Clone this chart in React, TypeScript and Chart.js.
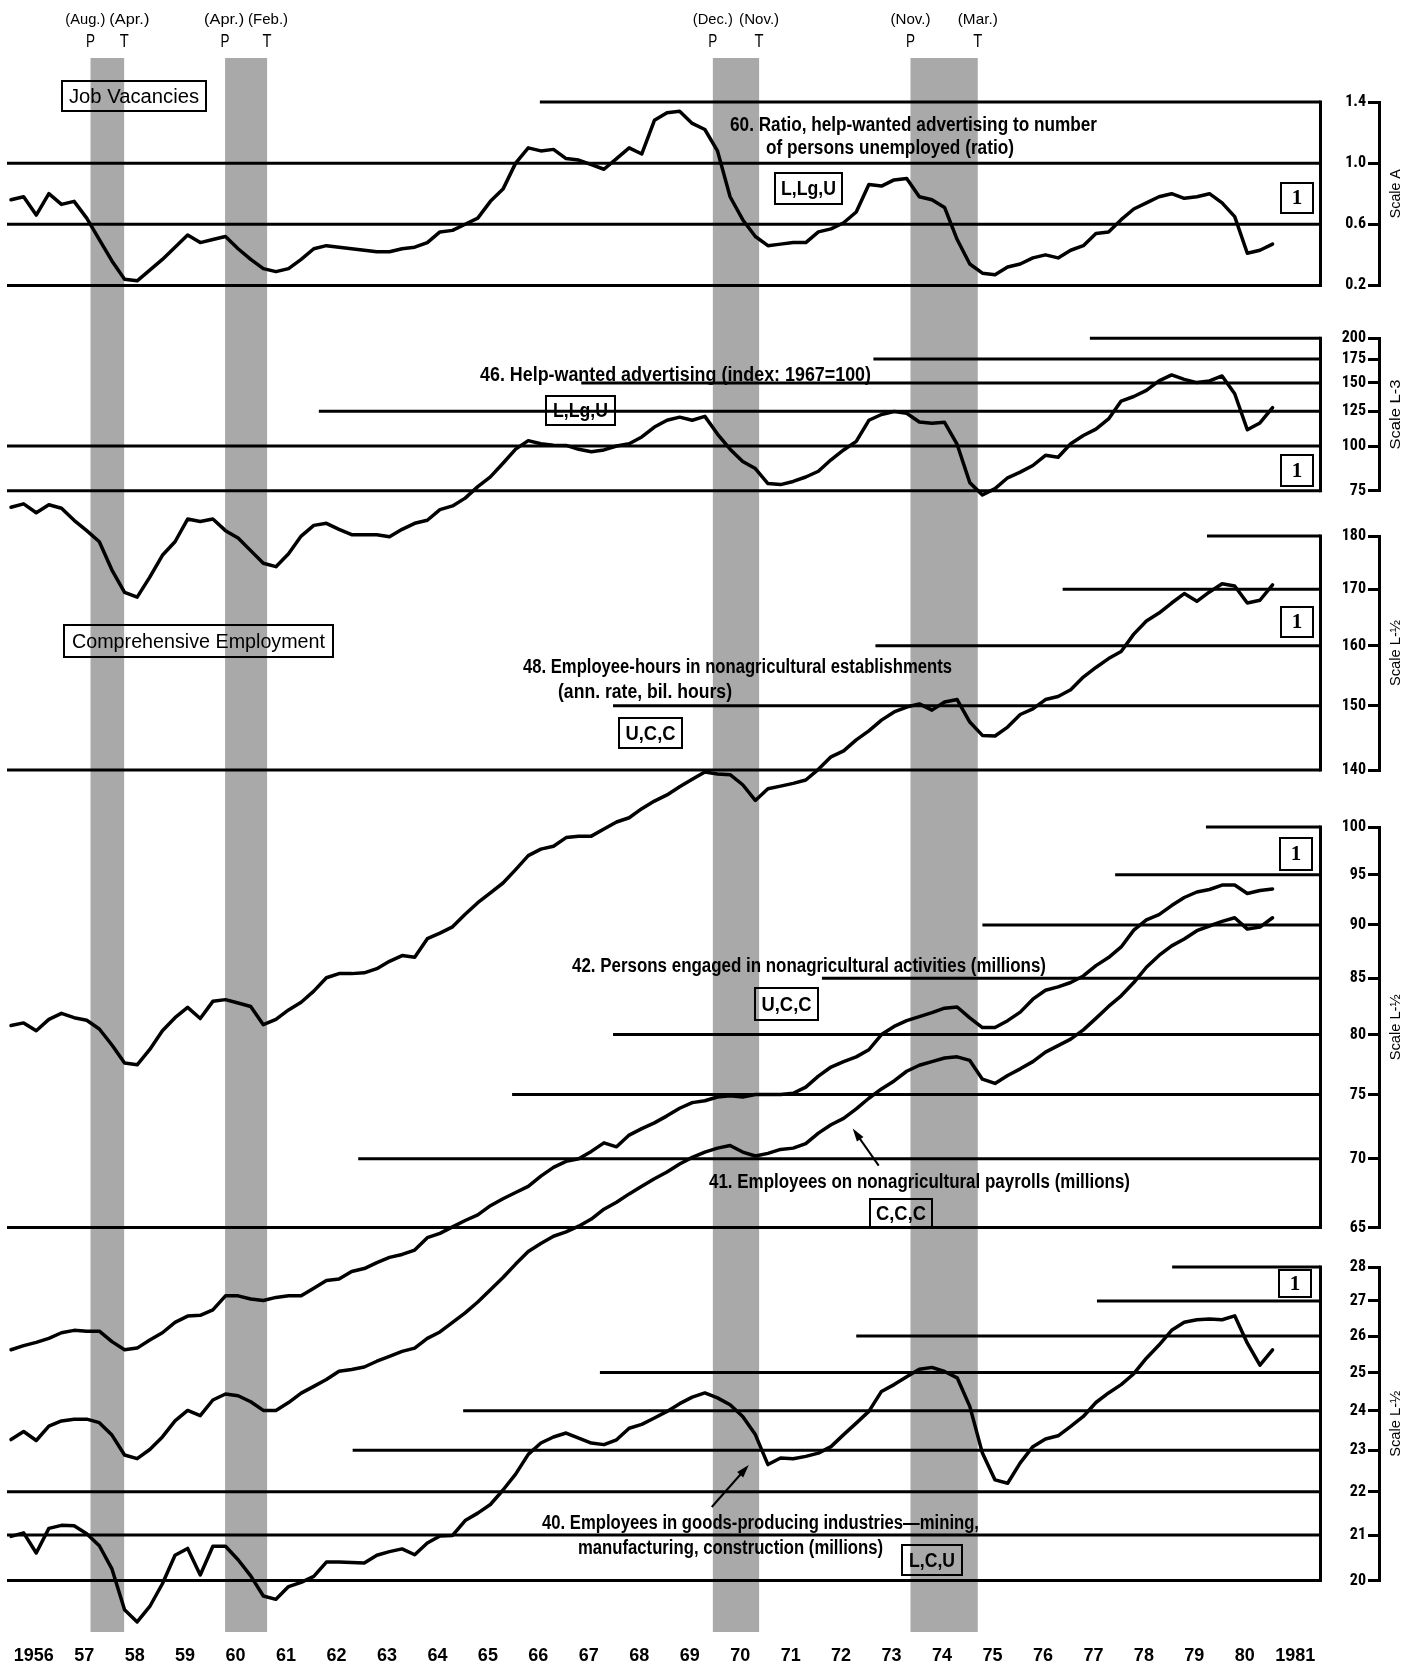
import React, { useEffect, useRef } from 'react';
import { Chart, registerables } from 'chart.js';

Chart.register(...registerables);

const WIDTH = 1415;
const HEIGHT = 1667;

// ---------- time axis ----------
const X_MIN = 1955.9703;
const X_MAX = 1983.1594;
const X_END = 1982; // right edge of the panels
const START = 1956.05; // first quarterly observation
const STEP = 0.25;

const YEAR_TICKS = [1956.5, 1957.5, 1958.5, 1959.5, 1960.5, 1961.5, 1962.5, 1963.5, 1964.5, 1965.5, 1966.5, 1967.5, 1968.5,
  1969.5, 1970.5, 1971.5, 1972.5, 1973.5, 1974.5, 1975.5, 1976.5, 1977.5, 1978.5, 1979.5, 1980.5, 1981.5];
const YEAR_LABELS = ['1956', '57', '58', '59', '60', '61', '62', '63', '64', '65', '66', '67', '68', '69', '70', '71', '72',
  '73', '74', '75', '76', '77', '78', '79', '80', '1981'];

// ---------- business cycle turning points ----------
const PEAKS = [1957.625, 1960.292, 1969.958, 1973.875];
const TROUGHS = [1958.292, 1961.125, 1970.875, 1975.208];
const PEAK_MONTHS = ['(Aug.)', '(Apr.)', '(Dec.)', '(Nov.)'];
const TROUGH_MONTHS = ['(Apr.)', '(Feb.)', '(Nov.)', '(Mar.)'];

// ---------- series (quarterly readings, 1956 Q1 ... 1981 Q1) ----------
const RATIO_60 = [
  0.76, 0.78, 0.66, 0.80, 0.73, 0.75, 0.64, 0.50, 0.36, 0.24,
  0.23, 0.30, 0.37, 0.45, 0.53, 0.48, 0.50, 0.52, 0.44, 0.37,
  0.31, 0.29, 0.31, 0.37, 0.44, 0.46, 0.45, 0.44, 0.43, 0.42,
  0.42, 0.44, 0.45, 0.48, 0.55, 0.56, 0.60, 0.64, 0.75, 0.83,
  1.00, 1.10, 1.08, 1.09, 1.03, 1.02, 0.99, 0.96, 1.03, 1.10,
  1.06, 1.28, 1.33, 1.34, 1.26, 1.22, 1.08, 0.78, 0.63, 0.52,
  0.46, 0.47, 0.48, 0.48, 0.55, 0.57, 0.61, 0.68, 0.86, 0.85,
  0.89, 0.90, 0.78, 0.76, 0.71, 0.50, 0.34, 0.28, 0.27, 0.32,
  0.34, 0.38, 0.40, 0.38, 0.43, 0.46, 0.54, 0.55, 0.63, 0.70,
  0.74, 0.78, 0.80, 0.77, 0.78, 0.80, 0.74, 0.65, 0.41, 0.43,
  0.47,
];
const HELP_WANTED_46 = [
  67.4, 68.9, 65.1, 68.5, 67, 62, 58, 54, 45, 39,
  37.8, 43, 49.5, 54, 62.5, 61.5, 62.5, 58, 55.3, 51,
  47, 46, 50, 56, 60, 60.8, 58.5, 56.5, 56.5, 56.5,
  55.8, 58.5, 60.8, 62, 66.4, 68, 71.5, 77, 82, 89.5,
  98, 103.5, 101.5, 100.5, 100.4, 97.9, 96.4, 97.5, 100, 101.5,
  106, 113, 118, 120.4, 118, 121, 108, 98, 90.5, 86.5,
  78.5, 78, 79.6, 81.9, 85, 91.5, 97.5, 103, 118, 122.5,
  124.8, 123.5, 116.7, 115.8, 116.5, 101, 79, 73, 76, 81.5,
  84.5, 88.2, 94.2, 93, 101.5, 107, 111.5, 119, 133.5, 137.5,
  143, 152, 158, 153.5, 150.4, 152, 157, 140, 111, 116,
  128,
];
const EMP_HOURS_48 = [
  106.4, 106.7, 105.8, 107.1, 107.8, 107.3, 107.0, 106.0, 104.2, 102.2,
  102.0, 103.7, 105.8, 107.3, 108.5, 107.2, 109.2, 109.4, 109.0, 108.6,
  106.5, 107.1, 108.2, 109.1, 110.4, 112.0, 112.5, 112.5, 112.6, 113.1,
  114.0, 114.7, 114.5, 116.8, 117.5, 118.3, 119.9, 121.4, 122.7, 124.0,
  125.8, 127.7, 128.6, 129.0, 130.2, 130.4, 130.4, 131.4, 132.4, 133.0,
  134.3, 135.4, 136.3, 137.5, 138.6, 139.7, 139.4, 139.3, 137.8, 135.5,
  137.2, 137.6, 138.0, 138.5, 140.1, 142.0, 142.9, 144.6, 146.0, 147.7,
  149.0, 149.8, 150.3, 149.3, 150.6, 151.0, 147.4, 145.3, 145.2, 146.6,
  148.6, 149.5, 151.0, 151.5, 152.6, 154.7, 156.3, 157.8, 159.0, 162.0,
  164.3, 165.7, 167.5, 169.2, 167.8, 169.5, 171.0, 170.6, 167.5, 168.0,
  170.8,
];
const PERSONS_42 = [
  57.0, 57.25, 57.45, 57.7, 58.05, 58.2, 58.15, 58.15, 57.5, 57.0,
  57.1, 57.6, 58.05, 58.7, 59.1, 59.15, 59.5, 60.4, 60.4, 60.2,
  60.1, 60.3, 60.4, 60.4, 60.9, 61.4, 61.5, 62.0, 62.2, 62.6,
  62.95, 63.15, 63.45, 64.3, 64.6, 65.05, 65.5, 65.9, 66.55, 67.05,
  67.5, 67.95, 68.7, 69.35, 69.8, 70.0, 70.55, 71.2, 70.9, 71.8,
  72.3, 72.75, 73.3, 73.9, 74.35, 74.5, 74.8, 74.9, 74.8, 75.0,
  75.0, 75.0, 75.1, 75.6, 76.5, 77.25, 77.7, 78.1, 78.7, 80.0,
  80.7, 81.2, 81.55, 81.9, 82.3, 82.4, 81.45, 80.6, 80.6, 81.2,
  81.95, 83.1, 83.9, 84.2, 84.6, 85.2, 86.15, 86.9, 87.9, 89.5,
  90.5, 91.0, 91.9, 92.7, 93.25, 93.5, 93.95, 93.95, 93.1, 93.4,
  93.55,
];
const PAYROLLS_41 = [
  51.75, 52.2, 51.7, 52.5, 52.8, 52.9, 52.9, 52.7, 52.0, 50.9,
  50.7, 51.2, 51.9, 52.8, 53.4, 53.1, 54.0, 54.35, 54.25, 53.9,
  53.4, 53.4, 53.85, 54.4, 54.8, 55.2, 55.7, 55.8, 55.95, 56.3,
  56.6, 56.9, 57.1, 57.7, 58.1, 58.7, 59.3, 60.0, 60.8, 61.6,
  62.5, 63.35, 63.9, 64.4, 64.7, 65.1, 65.6, 66.3, 66.8, 67.4,
  67.95, 68.5, 69.0, 69.6, 70.1, 70.5, 70.8, 71.0, 70.5, 70.2,
  70.4, 70.7, 70.8, 71.15, 71.95, 72.6, 73.1, 73.85, 74.7, 75.45,
  76.1, 76.9, 77.4, 77.7, 78.0, 78.1, 77.8, 76.25, 75.9, 76.55,
  77.1, 77.7, 78.5, 79.05, 79.6, 80.4, 81.4, 82.45, 83.4, 84.6,
  86.0, 87.1, 88.0, 88.65, 89.45, 89.9, 90.35, 90.7, 89.6, 89.8,
  90.7,
];
const GOODS_40 = [
  20.97, 21.05, 20.6, 21.15, 21.22, 21.21, 21.03, 20.76, 20.25, 19.38,
  19.13, 19.45, 19.93, 20.55, 20.7, 20.12, 20.75, 20.75, 20.45, 20.1,
  19.67, 19.6, 19.87, 19.96, 20.09, 20.4, 20.4, 20.39, 20.38, 20.55,
  20.63, 20.69, 20.56, 20.82, 20.98, 20.99, 21.33, 21.5, 21.7, 22.04,
  22.42, 22.9, 23.18, 23.33, 23.43, 23.3, 23.18, 23.14, 23.26, 23.55,
  23.65, 23.81, 23.98, 24.18, 24.35, 24.46, 24.33, 24.15, 23.85, 23.39,
  22.65, 22.81, 22.79, 22.85, 22.93, 23.09, 23.39, 23.68, 23.98, 24.5,
  24.68, 24.89, 25.09, 25.14, 25.03, 24.86, 24.11, 22.93, 22.28, 22.2,
  22.69, 23.09, 23.28, 23.36, 23.6, 23.85, 24.21, 24.46, 24.68, 24.97,
  25.39, 25.75, 26.16, 26.39, 26.46, 26.48, 26.46, 26.57, 25.8, 25.2,
  25.62,
];

// ---------- scale ticks ----------
const A_TICKS = [0.2, 0.6, 1.0, 1.4];
const L3_TICKS = [75, 100, 125, 150, 175, 200];
const L48_TICKS = [140, 150, 160, 170, 180];
const L42_TICKS = [65, 70, 75, 80, 85, 90, 95, 100];
const L40_TICKS = [20, 21, 22, 23, 24, 25, 26, 27, 28];

// ---------- ruled lines (level, first year of the rule) ----------
const A_GRID = [1.4, 1.0, 0.6, 0.2];
const A_GRID_FROM = [1966.53, X_MIN, X_MIN, X_MIN];
const L3_GRID = [200, 175, 150, 125, 100, 75];
const L3_GRID_FROM = [1977.43, 1973.14, 1967.35, 1962.15, X_MIN, X_MIN];
const L48_GRID = [180, 170, 160, 150, 140];
const L48_GRID_FROM = [1979.75, 1976.89, 1973.18, 1967.98, X_MIN];
const L42_GRID = [100, 95, 90, 85, 80, 75, 70, 65];
const L42_GRID_FROM = [1979.73, 1977.93, 1975.3, 1972.12, 1967.98, 1965.98, 1962.93, X_MIN];
const L40_GRID = [28, 27, 26, 25, 24, 23, 22, 21, 20];
const L40_GRID_FROM = [1979.06, 1977.57, 1972.8, 1967.72, 1965.01, 1962.82, X_MIN, X_MIN, X_MIN];

// ---------- styling ----------
const SANS = '"Liberation Sans Narrow", "Liberation Sans", Arial, sans-serif';
const PLAIN = '"Liberation Sans", Arial, sans-serif';
const NARROW = '"Liberation Sans Narrow", "Roboto Condensed", "DejaVu Sans Condensed", "Liberation Sans", sans-serif';
const SERIF = '"Liberation Serif", "DejaVu Serif", serif';
const SHADE = '#a9a9a9';
const INK = '#000000';

const TITLES = [
  { text: '60. Ratio, help-wanted advertising to number', x: 730, y: 125, w: 367 },
  { text: 'of persons unemployed (ratio)', x: 766, y: 148, w: 248 },
  { text: '46. Help-wanted advertising (index: 1967=100)', x: 480, y: 375, w: 391 },
  { text: '48. Employee-hours in nonagricultural establishments', x: 523, y: 667, w: 429 },
  { text: '(ann. rate, bil. hours)', x: 558, y: 692, w: 174 },
  { text: '42. Persons engaged in nonagricultural activities (millions)', x: 572, y: 966, w: 474 },
  { text: '41. Employees on nonagricultural payrolls (millions)', x: 709, y: 1182, w: 421 },
  { text: '40. Employees in goods-producing industries\u2014mining,', x: 542, y: 1523, w: 437 },
  { text: 'manufacturing, construction (millions)', x: 578, y: 1548, w: 305 },
];

const BOXES = [
  { text: 'Job Vacancies', r: [62, 81, 206, 111], w: 130, size: 20, weight: 'normal', family: SANS },
  { text: 'L,Lg,U', r: [775, 173, 842, 204], w: 55, size: 20, weight: 'bold', family: SANS },
  { text: '1', r: [1281, 183, 1313, 213], w: 0, size: 21, weight: 'bold', family: SERIF },
  { text: 'L,Lg,U', r: [546, 396, 615, 425], w: 55, size: 20, weight: 'bold', family: SANS },
  { text: '1', r: [1281, 455, 1313, 486], w: 0, size: 21, weight: 'bold', family: SERIF },
  { text: 'Comprehensive Employment', r: [64, 625, 333, 657], w: 253, size: 21, weight: 'normal', family: SANS },
  { text: '1', r: [1281, 607, 1313, 637], w: 0, size: 21, weight: 'bold', family: SERIF },
  { text: 'U,C,C', r: [619, 718, 682, 748], w: 50, size: 20, weight: 'bold', family: SANS },
  { text: '1', r: [1280, 838, 1312, 870], w: 0, size: 21, weight: 'bold', family: SERIF },
  { text: 'U,C,C', r: [755, 988, 818, 1020], w: 50, size: 20, weight: 'bold', family: SANS },
  { text: 'C,C,C', r: [870, 1199, 932, 1227], w: 50, size: 20, weight: 'bold', family: SANS },
  { text: '1', r: [1279, 1270, 1311, 1297], w: 0, size: 21, weight: 'bold', family: SERIF },
  { text: 'L,C,U', r: [902, 1545, 962, 1575], w: 46, size: 20, weight: 'bold', family: SANS },
];

const SCALE_TITLES = [
  { id: 'yA', text: 'Scale A', w: 49 },
  { id: 'yL3', text: 'Scale L-3', w: 70 },
  { id: 'yL48', text: 'Scale L-\u00BD', w: 66 },
  { id: 'yL42', text: 'Scale L-\u00BD', w: 66 },
  { id: 'yL40', text: 'Scale L-\u00BD', w: 66 },
];

// arrows: tip placed on a scale value, tail offset in pixels
const ARROWS = [
  { axis: 'yL42', t: 1972.73, v: 72.3, dx: 26, dy: 37 },
  { axis: 'yL40', t: 1970.67, v: 22.64, dx: -37, dy: 42 },
];

function fitText(ctx: any, text: string, x: number, y: number, width: number, size: number,
  weight: string, align: string, family: string = SANS) {
  ctx.save();
  ctx.font = `${weight} ${size}px ${family}`;
  const w0 = ctx.measureText(text).width || 1;
  const sx = width > 0 ? width / w0 : 1;
  ctx.translate(x, y);
  ctx.scale(sx, 1);
  ctx.textAlign = align;
  ctx.textBaseline = 'middle';
  ctx.fillStyle = INK;
  ctx.fillText(text, 0, 0);
  ctx.restore();
}

const decorPlugin = {
  id: 'bcdDecor',
  beforeDraw(chart: any) {
    const { ctx, chartArea, scales } = chart;
    const xs = scales.x;
    ctx.save();
    ctx.fillStyle = '#ffffff';
    ctx.fillRect(0, 0, chart.width, chart.height);
    ctx.fillStyle = SHADE;
    PEAKS.forEach((p, i) => {
      const x1 = xs.getPixelForValue(p);
      const x2 = xs.getPixelForValue(TROUGHS[i]);
      ctx.fillRect(x1, chartArea.top, x2 - x1, chartArea.bottom - chartArea.top);
    });
    ctx.restore();
    PEAKS.forEach((p, i) => {
      const x1 = xs.getPixelForValue(p);
      const x2 = xs.getPixelForValue(TROUGHS[i]);
      const w = 40;
      let c1 = x1;
      let c2 = x2;
      const overlap = c1 + w / 2 + 4 - (c2 - w / 2);
      if (overlap > 0) { c1 -= overlap / 2; c2 += overlap / 2; }
      fitText(ctx, PEAK_MONTHS[i], c1, 20, w, 15, 'normal', 'center');
      fitText(ctx, TROUGH_MONTHS[i], c2, 20, w, 15, 'normal', 'center');
      fitText(ctx, 'P', x1, 42, 9, 18, 'normal', 'center');
      fitText(ctx, 'T', x2, 42, 9, 18, 'normal', 'center');
    });
  },
  afterDatasetsDraw(chart: any) {
    const { ctx, scales } = chart;
    TITLES.forEach((t) => fitText(ctx, t.text, t.x, t.y, t.w, 20, 'bold', 'left'));
    BOXES.forEach((b) => {
      const [x1, y1, x2, y2] = b.r;
      ctx.save();
      ctx.strokeStyle = INK;
      ctx.lineWidth = 2;
      ctx.strokeRect(x1, y1, x2 - x1, y2 - y1);
      ctx.restore();
      fitText(ctx, b.text, (x1 + x2) / 2, (y1 + y2) / 2 + 1, b.w, b.size, b.weight, 'center', b.family);
    });
    SCALE_TITLES.forEach((s) => {
      const sc = scales[s.id];
      const cy = (sc.top + sc.bottom) / 2;
      ctx.save();
      ctx.translate(sc.left + 17, cy);
      ctx.rotate(-Math.PI / 2);
      fitText(ctx, s.text, 0, 0, s.w, 15, 'normal', 'center');
      ctx.restore();
    });
    ARROWS.forEach((a) => {
      const tx = scales.x.getPixelForValue(a.t);
      const ty = scales[a.axis].getPixelForValue(a.v);
      const fx = tx + a.dx;
      const fy = ty + a.dy;
      const ang = Math.atan2(ty - fy, tx - fx);
      ctx.save();
      ctx.strokeStyle = INK;
      ctx.fillStyle = INK;
      ctx.lineWidth = 2;
      ctx.beginPath();
      ctx.moveTo(fx, fy);
      ctx.lineTo(tx - 8 * Math.cos(ang), ty - 8 * Math.sin(ang));
      ctx.stroke();
      const L = 13;
      const hw = 4;
      ctx.beginPath();
      ctx.moveTo(tx, ty);
      ctx.lineTo(tx - L * Math.cos(ang) + hw * Math.sin(ang), ty - L * Math.sin(ang) - hw * Math.cos(ang));
      ctx.lineTo(tx - L * Math.cos(ang) - hw * Math.sin(ang), ty - L * Math.sin(ang) + hw * Math.cos(ang));
      ctx.closePath();
      ctx.fill();
      ctx.restore();
    });
  },
};

function seriesDataset(values: number[], axis: string) {
  return {
    data: values.map((v, i) => ({ x: START + STEP * i, y: v })),
    xAxisID: 'x',
    yAxisID: axis,
    borderColor: INK,
    borderWidth: 3.5,
    pointRadius: 0,
    tension: 0,
    fill: false,
    clip: false,
    borderJoinStyle: 'round',
    borderCapStyle: 'round',
  };
}

function rule(x1: number, y1: number, x2: number, y2: number, axis: string, cap: string) {
  return {
    data: [{ x: x1, y: y1 }, { x: x2, y: y2 }],
    xAxisID: 'x',
    yAxisID: axis,
    borderColor: INK,
    borderWidth: 3,
    pointRadius: 0,
    tension: 0,
    fill: false,
    clip: false,
    borderCapStyle: cap,
  };
}

function panelRules(axis: string, levels: number[], from: number[]) {
  const out: any[] = levels.map((lv, k) => rule(from[k], lv, X_END, lv, axis, 'butt'));
  out.push(rule(X_END, levels[0], X_END, levels[levels.length - 1], axis, 'square'));
  return out;
}

const TICK_FONT = { family: NARROW, size: 16, weight: 'bold' };

function yScale(type: string, ticks: number[], weight: number, fmt: (v: number) => string) {
  return {
    type,
    min: ticks[0],
    max: ticks[ticks.length - 1],
    position: 'right',
    stack: 'panels',
    stackWeight: weight,
    bounds: 'data',
    grid: { display: true, drawOnChartArea: false, drawTicks: true, tickLength: -11, lineWidth: 3, color: INK },
    border: { display: true, width: 3, color: INK },
    ticks: { mirror: true, padding: -13, autoSkip: false, color: INK, font: TICK_FONT, callback: fmt },
    afterBuildTicks: (s: any) => { s.ticks = ticks.map((v) => ({ value: v })); },
    afterFit: (s: any) => { s.width = 0; s.paddingTop = 0; s.paddingBottom = 0; },
  };
}

function spacer(weight: number) {
  return { type: 'linear', min: 0, max: 1, position: 'right', stack: 'panels', stackWeight: weight, display: false };
}

export default function App() {
  const ref = useRef<HTMLCanvasElement>(null);

  useEffect(() => {
    const canvas = ref.current;
    if (!canvas) return;
    const datasets: any[] = [
      seriesDataset(RATIO_60, 'yA'),
      seriesDataset(HELP_WANTED_46, 'yL3'),
      seriesDataset(EMP_HOURS_48, 'yL48'),
      seriesDataset(PERSONS_42, 'yL42'),
      seriesDataset(PAYROLLS_41, 'yL42'),
      seriesDataset(GOODS_40, 'yL40'),
      ...panelRules('yA', A_GRID, A_GRID_FROM),
      ...panelRules('yL3', L3_GRID, L3_GRID_FROM),
      ...panelRules('yL48', L48_GRID, L48_GRID_FROM),
      ...panelRules('yL42', L42_GRID, L42_GRID_FROM),
      ...panelRules('yL40', L40_GRID, L40_GRID_FROM),
    ];
    const fmtA = (v: number) => Number(v).toFixed(1);
    const fmtL = (v: number) => String(v);
    const chart = new Chart(canvas, {
      type: 'line',
      data: { datasets },
      options: {
        responsive: false,
        maintainAspectRatio: false,
        animation: false,
        devicePixelRatio: 1,
        events: [],
        layout: { padding: { left: 7, right: 36, top: 58, bottom: 1 } },
        plugins: { legend: { display: false }, tooltip: { enabled: false }, title: { display: false } },
        scales: {
          x: {
            type: 'linear',
            min: X_MIN,
            max: X_MAX,
            position: 'bottom',
            grid: { display: false, drawTicks: false },
            border: { display: false },
            ticks: {
              autoSkip: false, maxRotation: 0, minRotation: 0, padding: 14, color: INK,
              font: { family: PLAIN, size: 18, weight: 'bold', lineHeight: 1.111 },
              callback: (_v: any, i: number) => YEAR_LABELS[i],
            },
            afterBuildTicks: (s: any) => { s.ticks = YEAR_TICKS.map((v) => ({ value: v })); },
            afterFit: (s: any) => { s.height = 34; s.paddingLeft = 0; s.paddingRight = 0; },
          },
          pad0: spacer(44),
          yA: yScale('linear', A_TICKS, 183.4, fmtA),
          pad1: spacer(52.9),
          yL3: yScale('logarithmic', L3_TICKS, 152.4, fmtL),
          pad2: spacer(45.3),
          yL48: yScale('logarithmic', L48_TICKS, 234, fmtL),
          pad3: spacer(57),
          yL42: yScale('logarithmic', L42_TICKS, 400.6, fmtL),
          pad4: spacer(39.4),
          yL40: yScale('logarithmic', L40_TICKS, 313.5, fmtL),
          pad5: spacer(51.5),
        },
      } as any,
      plugins: [decorPlugin],
    } as any);
    return () => chart.destroy();
  }, []);

  return (
    <div style={{ position: 'absolute', left: 0, top: 0, width: WIDTH, height: HEIGHT, background: '#ffffff' }}>
      <canvas ref={ref} width={WIDTH} height={HEIGHT} style={{ display: 'block', width: WIDTH, height: HEIGHT }} />
    </div>
  );
}
